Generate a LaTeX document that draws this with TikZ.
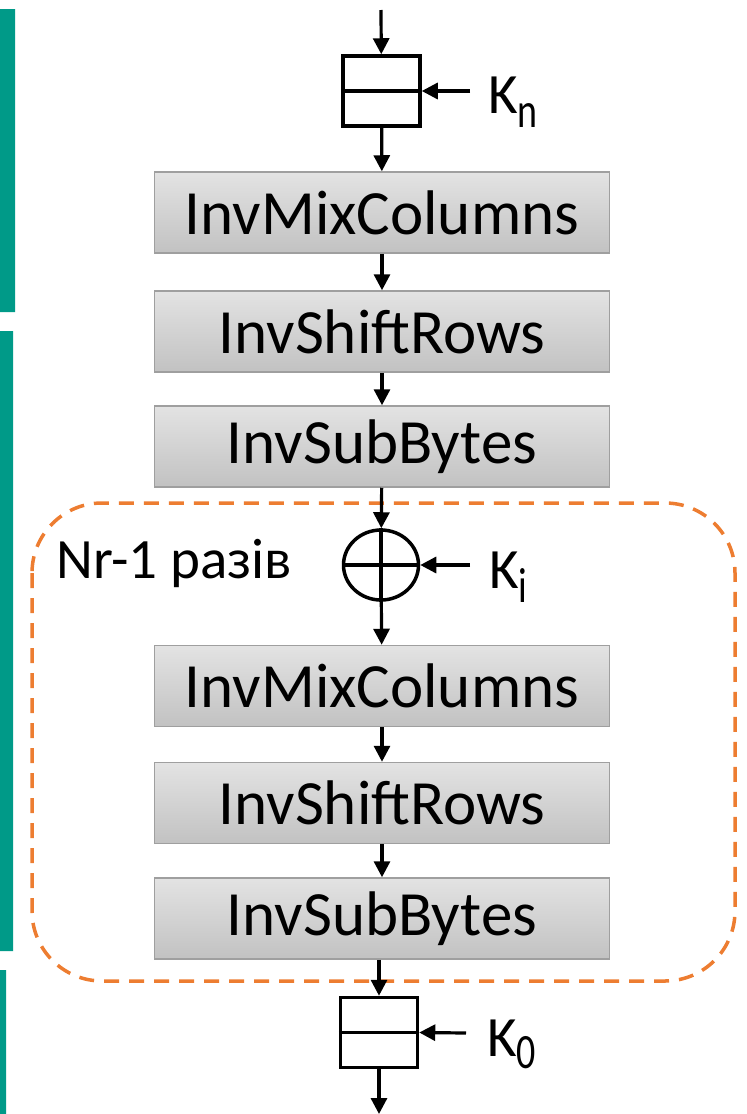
\documentclass[tikz,border=0pt]{standalone}
\usepackage{fontspec}
\setmainfont{Carlito}
\usetikzlibrary{arrows.meta, shapes.geometric}
\definecolor{tealbar}{HTML}{009A88}
\definecolor{looporange}{HTML}{ED7D31}
\newcommand{\keysub}[2][-14pt]{\raisebox{#1}{\fontsize{38}{40}\selectfont\scalebox{1}[1.3]{#2}}}

\begin{document}
\begin{tikzpicture}[x=1pt, y=-1pt,
  op/.style={draw=gray!75, line width=1.5pt, top color=gray!22, bottom color=gray!48,
    minimum width=455pt, minimum height=81pt, inner sep=0pt, font=\fontsize{63}{70}\selectfont},
  keybox/.style={draw, line width=3.5pt, minimum width=77pt, minimum height=70pt, inner sep=0pt},
  xorop/.style={draw, ellipse, line width=3.5pt, minimum width=75pt, minimum height=70pt, inner sep=0pt},
  flow/.style={line width=3.2pt, -{Triangle[length=16pt,width=16pt]}},
  keylbl/.style={font=\fontsize{57}{60}\selectfont, inner sep=0pt, anchor=base west}]
  \useasboundingbox (0,0) rectangle (747,1114);
  % side bars
  \fill[tealbar] (0,9) rectangle (15,312) (0,331) rectangle (13,951) (0,970) rectangle (6,1114);
  % loop frame
  \draw[looporange, line width=3.5pt, dash pattern=on 15pt off 10pt, rounded corners=70pt]
    (32,503) rectangle (735,981);
  \node[keylbl] (loop) at (56,578) {Nr-1 разів};
  % main column
  \path (381,10) coordinate (in)
    (381.5,91) node[keybox] (kn) {}
    (382,212.5) node[op] (mix1) {InvMixColumns}
    (382,331.5) node[op] (shift1) {InvShiftRows}
    (382,446.5) node[op] (sub1) {InvSubBytes}
    (381,565) node[xorop] (xor) {}
    (382,686) node[op] (mix2) {InvMixColumns}
    (382,803) node[op] (shift2) {InvShiftRows}
    (382,918.5) node[op] (sub2) {InvSubBytes}
    (379,1032.5) node[keybox] (k0) {}
    (379,1114) coordinate (out);
  \draw[line width=3.5pt] (kn.west) -- (kn.east) (k0.west) -- (k0.east)
    (xor.west) -- (xor.east) (xor.north) -- (xor.south);
  \draw[flow] (in) -- (kn);
  \draw[flow] (kn) -- (mix1);
  \draw[flow] (mix1) -- (shift1);
  \draw[flow] (shift1) -- (sub1);
  \draw[flow] (sub1) -- (xor);
  \draw[flow] (xor) -- (mix2);
  \draw[flow] (mix2) -- (shift2);
  \draw[flow] (shift2) -- (sub2);
  \draw[flow] (sub2.south -| k0.north) -- (k0);
  \draw[flow] (k0) -- (out);
  % round keys
  \path (470,91) coordinate (knin) (470,565) coordinate (kiin) (466,1033) coordinate (k0in);
  \draw[flow] (knin) -- (kn.east);
  \draw[flow] (kiin) -- (xor.east);
  \draw[flow] (k0in) -- (k0.east);
  \node[keylbl] (knl) at (488,113) {K\keysub{n}};
  \node[keylbl] (kil) at (489,588) {K\keysub{i}};
  \node[keylbl] (k0l) at (487,1056) {K\keysub[-12pt]{0}};
\end{tikzpicture}
\end{document}
